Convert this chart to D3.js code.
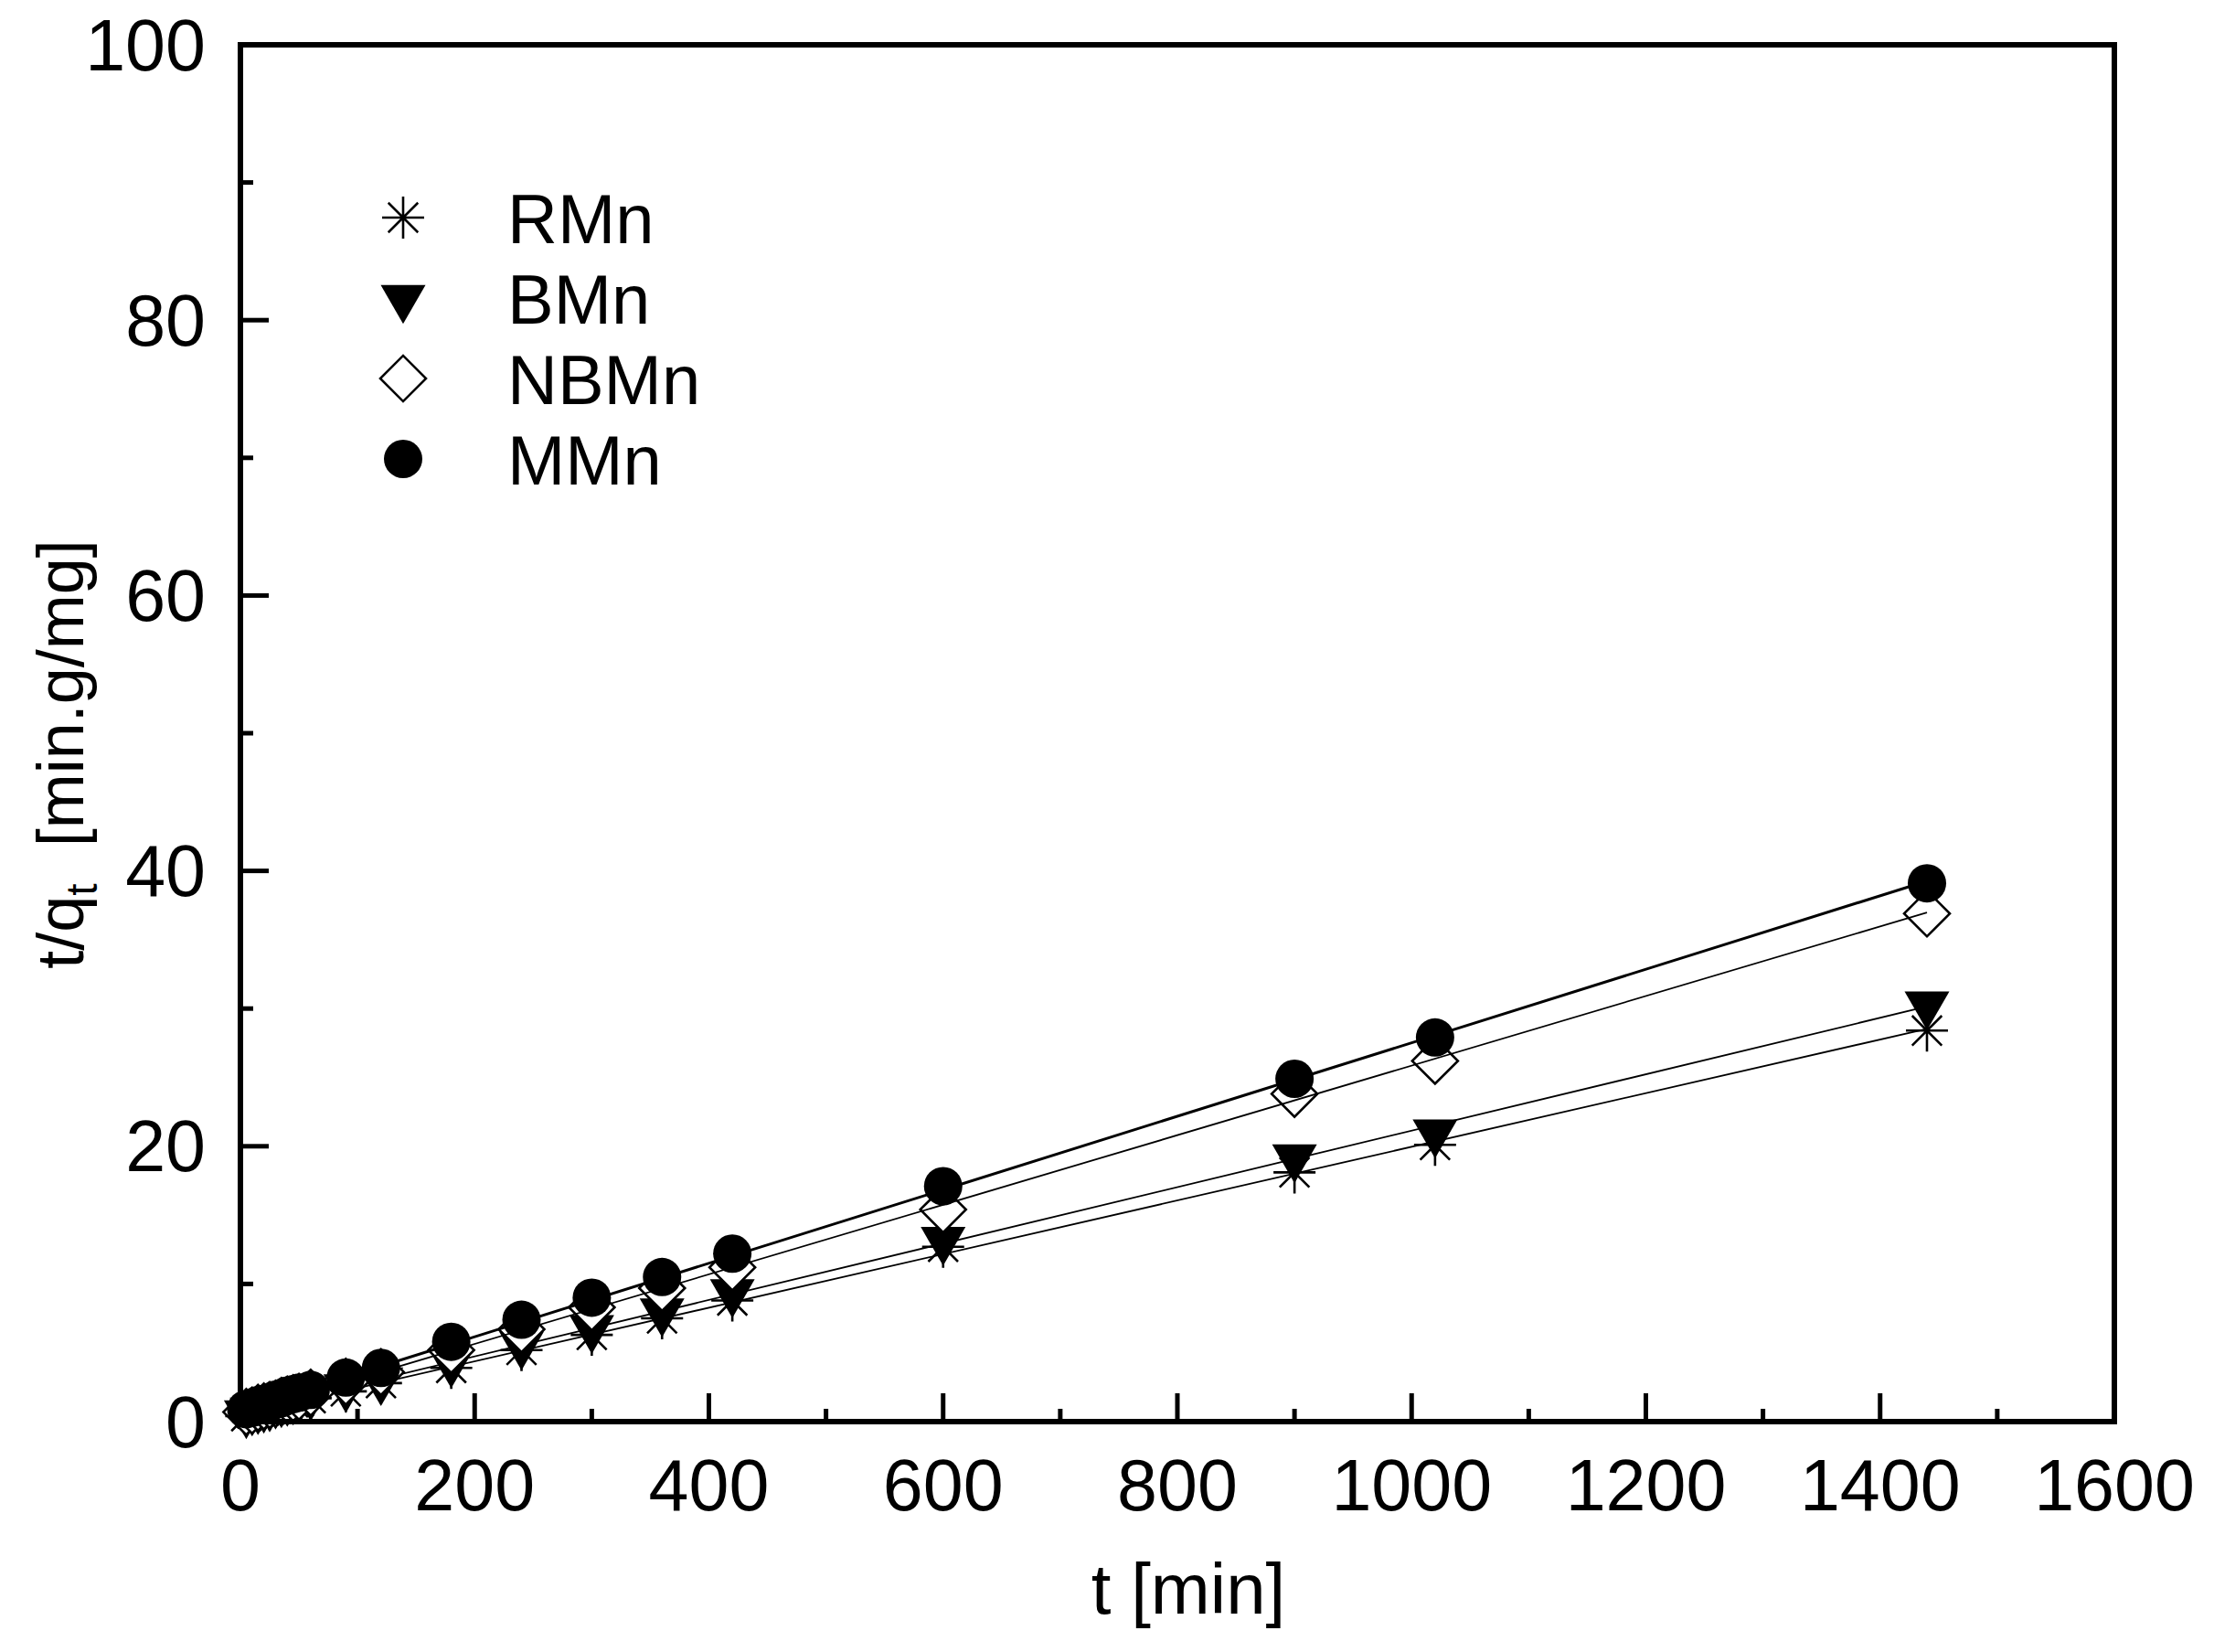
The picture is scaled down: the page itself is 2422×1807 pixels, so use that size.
<!DOCTYPE html>
<html>
<head>
<meta charset="utf-8">
<script src="https://cdn.jsdelivr.net/npm/d3@7"></script>
<style>
  body { margin: 0; background: #fff; }
  text { font-family: Arial, "Liberation Sans", sans-serif; fill: #000; }
</style>
</head>
<body>
<div id="chart"></div>
<script>
const times = [5, 10, 15, 20, 25, 30, 35, 40, 45, 50, 60, 90, 120, 180, 240, 300, 360, 420, 600, 900, 1020, 1440];
const rmnValues = [0.4, 0.6, 0.7, 0.8, 0.9, 1.1, 1.2, 1.3, 1.4, 1.5, 1.7, 2.2, 2.8, 3.9, 5.2, 6.3, 7.5, 8.8, 12.7, 18.1, 20.1, 28.4];
const bmnValues = [0.6, 0.8, 0.9, 1.0, 1.1, 1.3, 1.4, 1.5, 1.6, 1.7, 1.9, 2.5, 3.0, 4.3, 5.6, 6.8, 8.0, 9.4, 13.2, 19.2, 21.0, 30.3];
const nbmnValues = [0.7, 0.8, 1.0, 1.1, 1.2, 1.3, 1.5, 1.6, 1.7, 1.8, 2.1, 2.9, 3.6, 5.2, 6.7, 8.3, 9.7, 11.2, 15.4, 23.8, 26.2, 36.9];
const mmnValues = [0.9, 1.0, 1.2, 1.3, 1.4, 1.6, 1.7, 1.9, 2.0, 2.1, 2.3, 3.2, 3.9, 5.8, 7.4, 9.0, 10.5, 12.2, 17.1, 24.9, 27.9, 39.1];
const seriesNames = ['RMn', 'BMn', 'NBMn', 'MMn'];
const xTicks = [0, 200, 400, 600, 800, 1000, 1200, 1400, 1600];
const yTicks = [0, 20, 40, 60, 80, 100];

const outerWidth = 2422;
const outerHeight = 1807;
const margin = { top: 49, right: 109, bottom: 252, left: 263 };
const width = outerWidth - margin.left - margin.right;
const height = outerHeight - margin.top - margin.bottom;

const svg = d3.select('#chart').append('svg')
    .attr('width', outerWidth)
    .attr('height', outerHeight);

const g = svg.append('g')
    .attr('transform', `translate(${margin.left}, ${margin.top})`);

const x = d3.scaleLinear().domain([0, 1600]).range([0, width]);
const y = d3.scaleLinear().domain([0, 100]).range([height, 0]);

// marker shapes
const asteriskPath = (r) => {
    const d = r * Math.SQRT1_2;
    return `M${-r},0L${r},0M0,${-r}L0,${r}M${-d},${-d}L${d},${d}M${-d},${d}L${d},${-d}`;
};
const drawMarker = (sel, kind) => {
    if (kind === 'RMn') {
        sel.append('path').attr('d', asteriskPath(23))
            .attr('fill', 'none').attr('stroke', '#000').attr('stroke-width', 2.6);
    } else if (kind === 'BMn') {
        sel.append('path').attr('d', d3.symbol(d3.symbolTriangle, 1040)())
            .attr('transform', 'rotate(180)').attr('fill', '#000');
    } else if (kind === 'NBMn') {
        sel.append('path').attr('d', d3.symbol(d3.symbolSquare, 1250)())
            .attr('transform', 'rotate(45)')
            .attr('fill', '#fff').attr('stroke', '#000').attr('stroke-width', 2.6);
    } else {
        sel.append('circle').attr('r', 21).attr('fill', '#000');
    }
};

const series = [
    { name: 'RMn', values: rmnValues, lw: 1.8 },
    { name: 'BMn', values: bmnValues, lw: 1.8 },
    { name: 'NBMn', values: nbmnValues, lw: 1.8 },
    { name: 'MMn', values: mmnValues, lw: 3 }
];

// least squares line through each series
const fitLine = (vals) => {
    const mx = d3.mean(times), my = d3.mean(vals);
    let num = 0, den = 0;
    times.forEach((t, i) => { num += (t - mx) * (vals[i] - my); den += (t - mx) * (t - mx); });
    const b = num / den;
    return [[0, my - b * mx], [1440, my - b * mx + b * 1440]];
};

const line = d3.line().x(d => x(d[0])).y(d => y(d[1]));

series.forEach(s => {
    const layer = g.append('g');
    times.forEach((t, i) => {
        const m = layer.append('g').attr('transform', `translate(${x(t)}, ${y(s.values[i])})`);
        drawMarker(m, s.name);
    });
    layer.append('path')
        .attr('d', line(fitLine(s.values)))
        .attr('fill', 'none')
        .attr('stroke', '#000')
        .attr('stroke-width', s.lw);
});

// ticks inside, left and bottom only
g.selectAll('.xtick').data(d3.range(0, 1601, 100)).enter().append('line')
    .attr('x1', d => x(d)).attr('x2', d => x(d))
    .attr('y1', height).attr('y2', d => height - (d % 200 === 0 ? 31 : 14))
    .attr('stroke', '#000').attr('stroke-width', 5);

g.selectAll('.ytick').data(d3.range(0, 101, 10)).enter().append('line')
    .attr('y1', d => y(d)).attr('y2', d => y(d))
    .attr('x1', 0).attr('x2', d => (d % 20 === 0 ? 31 : 14))
    .attr('stroke', '#000').attr('stroke-width', 5);

g.append('rect')
    .attr('x', 0).attr('y', 0).attr('width', width).attr('height', height)
    .attr('fill', 'none').attr('stroke', '#000').attr('stroke-width', 6);

// tick labels
g.selectAll('.xlab').data(xTicks).enter().append('text')
    .attr('x', d => x(d)).attr('y', height + 97)
    .attr('text-anchor', 'middle').style('font-size', '79px')
    .text(d => d);

g.selectAll('.ylab').data(yTicks).enter().append('text')
    .attr('x', -38).attr('y', d => y(d))
    .attr('dy', '0.35em')
    .attr('text-anchor', 'end').style('font-size', '79px')
    .text(d => d);

// axis titles
svg.append('text')
    .attr('x', 1300).attr('y', 1765)
    .attr('text-anchor', 'middle').style('font-size', '78px')
    .text('t [min]');

const yTitle = svg.append('text')
    .attr('transform', 'translate(91, 825) rotate(-90)')
    .attr('text-anchor', 'middle').style('font-size', '72px');
yTitle.append('tspan').text('t/q');
yTitle.append('tspan').attr('dy', 15).style('font-size', '48px').text('t');
yTitle.append('tspan').attr('dy', -15).text('\u00a0 [min.g/mg]');

// legend
const legend = svg.append('g');
seriesNames.forEach((name, i) => {
    const m = legend.append('g').attr('transform', `translate(441, ${238 + 88 * i})`);
    drawMarker(m, name);
    legend.append('text')
        .attr('x', 555).attr('y', 266 + 88 * i)
        .style('font-size', '76px')
        .text(name);
});
</script>
</body>
</html>
